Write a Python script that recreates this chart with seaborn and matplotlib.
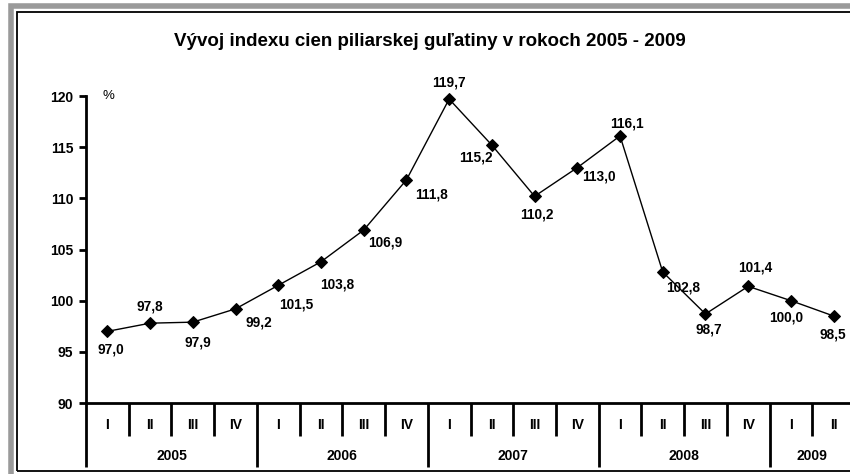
import matplotlib
matplotlib.use("Agg")
import matplotlib.pyplot as plt
import matplotlib.transforms as mtransforms
from matplotlib.patches import Rectangle
import pandas as pd
import seaborn as sns

# data
years = ["2005", "2006", "2007", "2008", "2009"]
quarters_per_year = [4, 4, 4, 4, 2]
quarter_names = ["I", "II", "III", "IV"]
index_values = [97.0, 97.8, 97.9, 99.2, 101.5, 103.8, 106.9, 111.8,
                119.7, 115.2, 110.2, 113.0, 116.1, 102.8, 98.7, 101.4,
                100.0, 98.5]
value_labels = ["97,0", "97,8", "97,9", "99,2", "101,5", "103,8", "106,9", "111,8",
                "119,7", "115,2", "110,2", "113,0", "116,1", "102,8", "98,7", "101,4",
                "100,0", "98,5"]

# label offsets in pixels (dx, dy), positive dy is up
label_offsets = [(3, -18), (0, 17), (5, -20), (23, -14), (18, -19), (16, -23),
                 (22, -12), (25, -15), (0, 17), (-16, -12), (2, -18), (22, -9),
                 (7, 12), (20, -15), (3, -16), (7, 19), (-5, -17), (-1, -18)]

quarters = [quarter_names[q] for n in quarters_per_year for q in range(n)]
df = pd.DataFrame({"pos": range(len(index_values)), "index": index_values,
                   "quarter": quarters})

sns.set_style("white")
plt.rcParams["font.family"] = ["Liberation Sans", "DejaVu Sans"]
plt.rcParams["text.color"] = "black"

W, H = 850, 474
fig = plt.figure(figsize=(W / 100, H / 100), dpi=100)

# outer gray border and inner black frame (cropped on the right)
fig.patches.append(Rectangle((11 / W, -0.05), 1.2, 1 - 6 / H + 0.05,
                             transform=fig.transFigure, fill=False,
                             edgecolor="#9a9a9a", linewidth=4.0))
fig.patches.append(Rectangle((16.5 / W, 1 - 471 / H), 1.2, (471 - 11.5) / H,
                             transform=fig.transFigure, fill=False,
                             edgecolor="black", linewidth=1.3))

ax_left, ax_right, ax_top, ax_bottom = 86, 855, 96, 403
ax = fig.add_axes([ax_left / W, 1 - ax_bottom / H,
                   (ax_right - ax_left) / W, (ax_bottom - ax_top) / H])
ax.set_facecolor("none")

sns.lineplot(data=df, x="pos", y="index", ax=ax, color="black", linewidth=1.0,
             marker="D", markersize=6, markeredgecolor="black", clip_on=False)

n = len(index_values)
ax.set_xlim(-0.5, n - 0.5)
ax.set_ylim(90, 120)
ax.set_yticks(range(90, 121, 5))
ax.set_yticklabels([str(v) for v in range(90, 121, 5)], fontsize=10,
                   fontweight="bold")
ax.set_xticks([])
ax.set_xlabel("")
ax.set_ylabel("")
ax.tick_params(axis="y", direction="out", length=5, width=2, pad=4,
               left=True, colors="black")
for side in ["top", "right"]:
    ax.spines[side].set_visible(False)
for side in ["left", "bottom"]:
    ax.spines[side].set_linewidth(2)
    ax.spines[side].set_color("black")

ax.text(0.022, 1.0, "%", transform=ax.transAxes, fontsize=9.5, ha="left",
        va="center")

# data labels
for i, (v, lab) in enumerate(zip(index_values, value_labels)):
    dx, dy = label_offsets[i]
    ax.annotate(lab, (i, v), xytext=(dx, dy), textcoords="offset pixels",
                ha="center", va="center", fontsize=9.8, fontweight="bold",
                annotation_clip=False)

# category axis: quarters and years
trans = mtransforms.blended_transform_factory(ax.transData, ax.transAxes)
axh = ax_bottom - ax_top
q_sep = -33 / axh
y_sep = -64 / axh
q_lab = -22 / axh
y_lab = -53 / axh

start = 0
for year, cnt in zip(years, quarters_per_year):
    ax.plot([start - 0.5, start - 0.5], [0, y_sep], transform=trans,
            color="black", linewidth=2, clip_on=False, solid_capstyle="butt")
    for k in range(cnt):
        p = start + k
        ax.text(p, q_lab, quarters[p], transform=trans, ha="center",
                va="center", fontsize=10, fontweight="bold")
        if k > 0:
            ax.plot([p - 0.5, p - 0.5], [0, q_sep], transform=trans,
                    color="black", linewidth=2, clip_on=False,
                    solid_capstyle="butt")
    ax.text(start + cnt / 2 - 0.5, y_lab, year, transform=trans, ha="center",
            va="center", fontsize=10, fontweight="bold")
    start += cnt
ax.plot([start - 0.5, start - 0.5], [0, y_sep], transform=trans,
        color="black", linewidth=2, clip_on=False, solid_capstyle="butt")

fig.text(430 / W, 1 - 42 / H,
         "Vývoj indexu cien piliarskej guľatiny v rokoch 2005 - 2009",
         ha="center", va="center", fontsize=13.5, fontweight="bold")

fig.savefig("out.png", dpi=100)
